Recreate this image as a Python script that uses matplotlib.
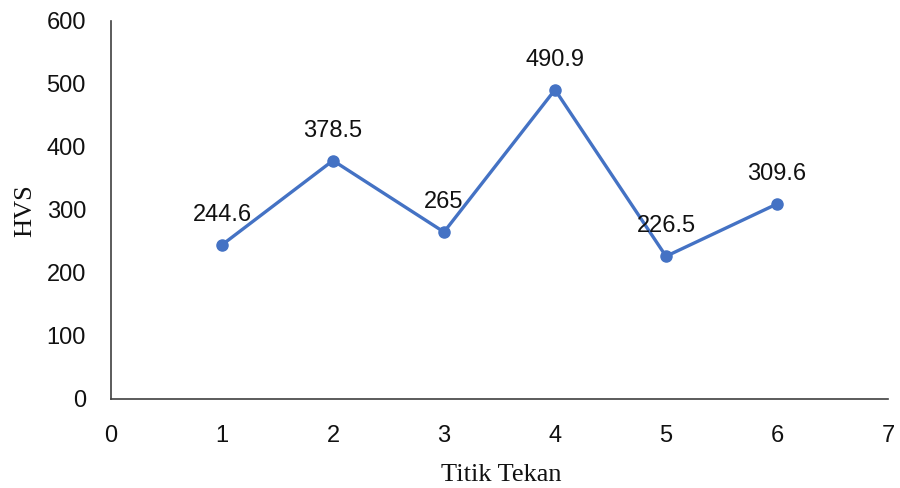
import matplotlib
matplotlib.use("Agg")
import matplotlib.pyplot as plt

# Titik tekan vs kekerasan
titik = [1, 2, 3, 4, 5, 6]
hvs = [244.6, 378.5, 265, 490.9, 226.5, 309.6]
labels = ["244.6", "378.5", "265", "490.9", "226.5", "309.6"]

fig = plt.figure(figsize=(9, 4.88), dpi=100)
ax = fig.add_axes([0.1233, 0.1824, 0.8634, 0.7746])

ax.plot(titik, hvs, color="#4472C4", lw=2.4, marker="o", ms=8, zorder=3)
for x, y, t in zip(titik, hvs, labels):
    ax.annotate(t, (x, y), xytext=(0, 21.5), textcoords="offset points",
                ha="center", va="center", fontsize=17, family="Liberation Sans",
                color="#111111")

ax.set_xlim(0, 7)
ax.set_ylim(0, 600)
ax.set_xticks(range(0, 8))
ax.set_yticks(range(0, 700, 100))
ax.tick_params(length=0, labelsize=17, colors="#111111")
for lab in ax.get_xticklabels() + ax.get_yticklabels():
    lab.set_family("Liberation Sans")
ax.tick_params(axis="x", pad=19)
ax.tick_params(axis="y", pad=18)
for s in ["top", "right"]:
    ax.spines[s].set_visible(False)
for s in ["left", "bottom"]:
    ax.spines[s].set_color("#404040")
    ax.spines[s].set_linewidth(1.2)

fig.text(501 / 900, 1 - 475 / 488, "Titik Tekan", family="Liberation Serif",
         fontsize=19, ha="center", va="center", color="#111111")
fig.text(25 / 900, 1 - 211 / 488, "HVS", family="Liberation Serif",
         fontsize=19, ha="center", va="center", rotation=90, color="#111111")

fig.savefig("out.png", dpi=100)
